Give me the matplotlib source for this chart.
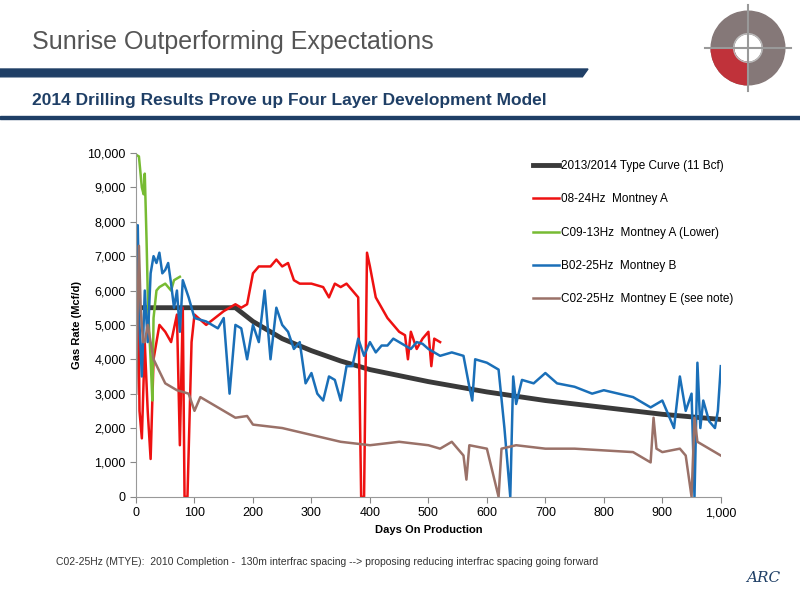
import numpy as np
import matplotlib.pyplot as plt
from matplotlib.patches import Circle, Polygon, Wedge, Rectangle

# Type curve
type_days = [0, 170, 200, 250, 300, 350, 400, 500, 600, 700, 800, 900, 1000]
type_rate = [5500, 5500, 5100, 4600, 4250, 3950, 3700, 3350, 3050, 2800, 2600, 2400, 2250]

red_days = [0, 3, 6, 10, 15, 20, 25, 30, 40, 50, 60, 70, 75, 80, 83, 88, 95, 100, 120, 150,
            170, 180, 190, 200, 210, 230, 240, 250, 260, 270, 280, 300, 320, 330, 340, 350,
            360, 370, 380, 385, 390, 395, 400, 410, 420, 430, 440, 450, 460, 465, 470, 480,
            490, 500, 505, 510, 520]
red_rate = [3000, 7500, 2500, 1700, 4500, 2500, 1100, 4000, 5000, 4800, 4500, 5300, 1500, 5500,
            0, 0, 4500, 5300, 5000, 5400, 5600, 5500, 5600, 6500, 6700, 6700, 6900, 6700,
            6800, 6300, 6200, 6200, 6100, 5800, 6200, 6100, 6200, 6000, 5800, 0, 0, 7100,
            6700, 5800, 5500, 5200, 5000, 4800, 4700, 4000, 4800, 4300, 4600, 4800, 3800,
            4600, 4500]

green_days = [0, 5, 10, 13, 15, 18, 20, 22, 25, 28, 30, 35, 40, 50, 60, 65, 75]
green_rate = [9950, 9900, 9000, 8800, 9400, 7500, 6000, 5000, 4000, 2800, 5200, 6000, 6100,
              6200, 6000, 6300, 6400]

blue_days = [0, 3, 6, 10, 15, 20, 25, 30, 35, 40, 45, 50, 55, 60, 65, 70, 75, 80, 90, 100,
             120, 140, 150, 160, 170, 180, 190, 200, 210, 220, 230, 240, 250, 260, 270, 280,
             290, 300, 310, 320, 330, 340, 350, 360, 370, 380, 390, 400, 410, 420, 430, 440,
             450, 460, 470, 480, 490, 500, 520, 540, 560, 570, 575, 580, 600, 620, 630, 640,
             645, 650, 660, 680, 700, 720, 750, 780, 800, 850, 880, 900, 920, 930, 940, 950,
             955, 960, 965, 970, 980, 990, 995, 1000]
blue_rate = [4000, 7900, 5000, 3500, 6000, 4500, 6500, 7000, 6800, 7100, 6500, 6600, 6800,
             6200, 5500, 6000, 4800, 6300, 5800, 5200, 5100, 4900, 5200, 3000, 5000, 4900,
             4000, 5000, 4500, 6000, 4000, 5500, 5000, 4800, 4300, 4500, 3300, 3600, 3000,
             2800, 3500, 3400, 2800, 3800, 3800, 4600, 4100, 4500, 4200, 4400, 4400, 4600,
             4500, 4400, 4300, 4500, 4450, 4300, 4100, 4200, 4100, 3200, 2800, 4000, 3900,
             3700, 2000, 0, 3500, 2700, 3400, 3300, 3600, 3300, 3200, 3000, 3100, 2900, 2600,
             2800, 2000, 3500, 2500, 3000, 0, 3900, 2000, 2800, 2200, 2000, 2500, 3800]

brown_days = [0, 5, 8, 12, 15, 20, 30, 50, 70, 90, 100, 110, 130, 150, 170, 190, 200, 250,
              300, 350, 400, 450, 500, 520, 540, 560, 565, 570, 600, 620, 625, 650, 700, 750,
              800, 850, 880, 885, 890, 900, 930, 940, 950, 955, 960, 980, 1000]
brown_rate = [3000, 7300, 5500, 4500, 4500, 5000, 4000, 3300, 3100, 3000, 2500, 2900, 2700,
              2500, 2300, 2350, 2100, 2000, 1800, 1600, 1500, 1600, 1500, 1400, 1600, 1200,
              500, 1500, 1400, 0, 1400, 1500, 1400, 1400, 1350, 1300, 1000, 2300, 1400, 1300,
              1400, 1200, 0, 2300, 1600, 1400, 1200]

fig = plt.figure(figsize=(8, 6), dpi=100)
plt.rcParams['font.family'] = ['Liberation Sans', 'DejaVu Sans']

# slide header
fig.text(0.04, 0.93, 'Sunrise Outperforming Expectations', fontsize=18, color='#555555',
         va='center')
fig.patches.append(Polygon([[0, 0.885], [0.735, 0.885], [0.728, 0.872], [0, 0.872]],
                           closed=True, transform=fig.transFigure, color='#1f3f66'))
fig.text(0.04, 0.832, '2014 Drilling Results Prove up Four Layer Development Model',
         fontsize=12.5, color='#1f3f66', fontweight='bold', va='center')
fig.patches.append(Rectangle((0, 0.802), 1, 0.004, transform=fig.transFigure,
                             color='#1f3f66'))

# logo
lx, ly = 0.936, 0.922
logo = fig.add_axes([0.87, 0.845, 0.13, 0.15])
logo.set_xlim(-1.1, 1.1)
logo.set_ylim(-1.1, 1.1)
logo.set_aspect('equal')
logo.axis('off')
logo.add_patch(Wedge((0, 0), 0.9, 0, 360, width=0.55, color='#857878'))
logo.add_patch(Wedge((0, 0), 0.9, 180, 270, width=0.55, color='#c0323a'))
logo.plot([0, 0], [-1.05, 1.05], color='#999999', lw=1.5)
logo.plot([-1.05, 1.05], [0, 0], color='#999999', lw=1.5)
logo.add_patch(Circle((0, 0), 0.35, fill=False, ec='#bbbbbb', lw=1))

ax = fig.add_axes([0.17, 0.172, 0.731, 0.573])
ax.plot(type_days, type_rate, color='#3a3a3a', lw=3.5,
        label='2013/2014 Type Curve (11 Bcf)')
ax.plot(red_days, red_rate, color='#ee1111', lw=1.8, label='08-24Hz  Montney A')
ax.plot(green_days, green_rate, color='#77bb33', lw=1.8, label='C09-13Hz  Montney A (Lower)')
ax.plot(blue_days, blue_rate, color='#1a6fb8', lw=1.8, label='B02-25Hz  Montney B')
ax.plot(brown_days, brown_rate, color='#9a7168', lw=1.8, label='C02-25Hz  Montney E (see note)')

ax.set_xlim(0, 1000)
ax.set_ylim(0, 10000)
ax.set_xticks(range(0, 1001, 100))
ax.set_xticklabels([f'{v:,}' for v in range(0, 1001, 100)])
ax.set_yticks(range(0, 10001, 1000))
ax.set_yticklabels([f'{v:,}' for v in range(0, 10001, 1000)])
ax.tick_params(labelsize=9, color='#888888', direction='out', length=4)
for s in ['top', 'right']:
    ax.spines[s].set_visible(False)
for s in ['left', 'bottom']:
    ax.spines[s].set_color('#999999')
ax.set_xlabel('Days On Production', fontsize=8, fontweight='bold')
ax.set_ylabel('Gas Rate (Mcf/d)', fontsize=8, fontweight='bold')

ax.legend(loc='upper left', bbox_to_anchor=(0.66, 1.01), frameon=False, fontsize=8.5,
          labelspacing=1.8, handlelength=2.2, handletextpad=0.2)

fig.text(0.07, 0.063, 'C02-25Hz (MTYE):  2010 Completion -  130m interfrac spacing --> '
         'proposing reducing interfrac spacing going forward', fontsize=7.5, color='#333333',
         va='center')
fig.text(0.975, 0.037, 'ARC', fontsize=11, color='#1f3f66', fontstyle='italic',
         ha='right', va='center', fontfamily='serif')

fig.savefig('out.png', dpi=100)
